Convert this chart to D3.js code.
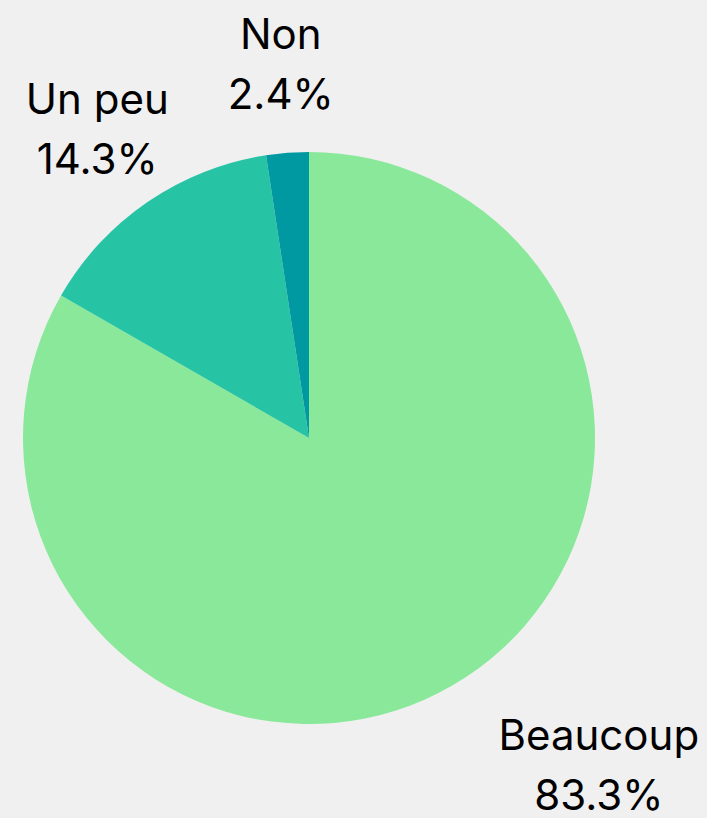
<!DOCTYPE html>
<html><head><meta charset="utf-8">
<script src="https://cdn.jsdelivr.net/npm/d3@7"></script>
<style>html,body{margin:0;padding:0;background:#f0f0f0;}svg{display:block;}</style>
</head><body>
<svg id="chart" width="707" height="818"></svg>
<script>
const categories = ["Beaucoup", "Un peu", "Non"];
const values = [83.3, 14.3, 2.4];
const colors = ["#8ae89a", "#26c4a4", "#0099a1"];
const labelShift = [102, 0, 0];

const svg = d3.select("#chart");
const cx = 309, cy = 438, r = 286, labelR = 375;
const data = categories.map((c, i) => ({cat: c, val: values[i], color: colors[i], shift: labelShift[i]}));
const pie = d3.pie().value(d => d.val).sort(null);
const arc = d3.arc().innerRadius(0).outerRadius(r);
const labelArc = d3.arc().innerRadius(labelR).outerRadius(labelR);
const g = svg.append("g").attr("transform", `translate(${cx},${cy})`);
const arcs = pie(data);
g.selectAll("path").data(arcs).join("path")
  .attr("d", arc).attr("fill", d => d.data.color);
const lab = g.selectAll("text").data(arcs).join("text")
  .attr("transform", d => { const [x, y] = labelArc.centroid(d); return `translate(${x + d.data.shift},${y})`; })
  .attr("text-anchor", "middle")
  .style("font-family", "Inter, sans-serif").style("font-size", "42px").attr("fill", "#000");
lab.append("tspan").attr("x", 0).attr("y", d => d.index === 0 ? -13 : -15).text(d => d.data.cat);
lab.append("tspan").attr("x", 0).attr("y", d => d.index === 0 ? 47 : 45).text(d => d.data.val.toFixed(1) + "%");
</script>
</body></html>
